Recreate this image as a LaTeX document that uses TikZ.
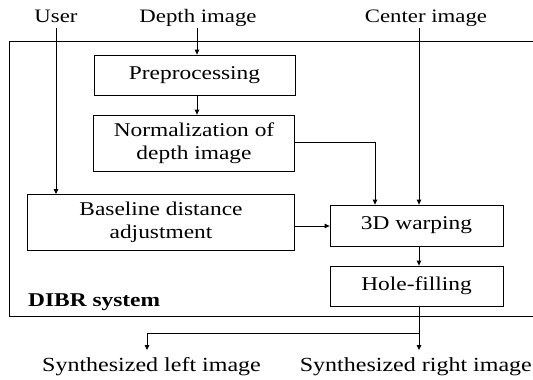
\documentclass[tikz,border=0pt]{standalone}
\usepackage{fontspec}
\setmainfont{Liberation Serif}[FakeStretch=1.2]
\usetikzlibrary{arrows.meta}
\begin{document}
\begin{tikzpicture}[x=1pt,y=-1pt,
  font=\fontsize{19.5}{21}\selectfont,
  blk/.style={draw,line width=0.8pt,inner sep=0pt,align=center},
  lbl/.style={inner sep=0pt},
  toplbl/.style={lbl,anchor=base,font=\fontsize{19}{21}\selectfont},
  botlbl/.style={lbl,font=\fontsize{20}{22}\selectfont},
  conn/.style={line width=0.8pt,-{Triangle[length=5pt,width=4.5pt]}},
  plain/.style={line width=0.8pt}]
\useasboundingbox (0,0) rectangle (533,380);
\draw[line width=0.8pt] (9,41) rectangle (545,316);
\node[lbl,font=\fontsize{19.5}{21}\selectfont\bfseries,anchor=base west] (dibr) at (28,306) {DIBR system};
% inputs
\node[toplbl] (user) at (56,22) {User};
\node[toplbl] (depth) at (198,22) {Depth image};
\node[toplbl] (center) at (426,22) {Center image};
% blocks
\node[blk,minimum width=201pt,minimum height=40pt] (pre) at (194.5,75) {Preprocessing};
\node[blk,minimum width=201pt,minimum height=56pt,font=\fontsize{19.5}{23}\selectfont] (norm) at (194,143) {Normalization of\\depth image};
\node[blk,minimum width=267pt,minimum height=56pt,font=\fontsize{19.5}{23}\selectfont] (base) at (161,222) {Baseline distance\\adjustment};
\node[blk,minimum width=173pt,minimum height=41pt] (warp) at (416.5,225.5) {3D warping};
\node[blk,minimum width=173pt,minimum height=40pt] (hole) at (416.5,286) {Hole-filling};
% outputs
\node[botlbl,anchor=base west] (left) at (42,371) {Synthesized left image};
\node[botlbl,anchor=base east] (right) at (532,371) {Synthesized right image};
\coordinate (split) at (419,333);
% connectors
\draw[conn] (56,28) -- (56,194);
\draw[conn] (197,28) -- (pre.north -| 197,0);
\draw[conn] (pre.south -| 197,0) -- (norm.north -| 197,0);
\draw[conn] (norm.east |- 0,142) -- (375,142) -- (warp.north -| 375,0);
\draw[conn] (419,28) -- (warp.north -| 419,0);
\draw[conn] (base.east |- 0,226) -- (warp.west |- 0,226);
\draw[conn] (warp.south -| 419,0) -- (hole.north -| 419,0);
\draw[plain] (hole.south -| 419,0) -- (split);
\draw[conn] (split) -- (147,333) -- (147,350);
\draw[conn] (split) -- (419,350);
\end{tikzpicture}
\end{document}
